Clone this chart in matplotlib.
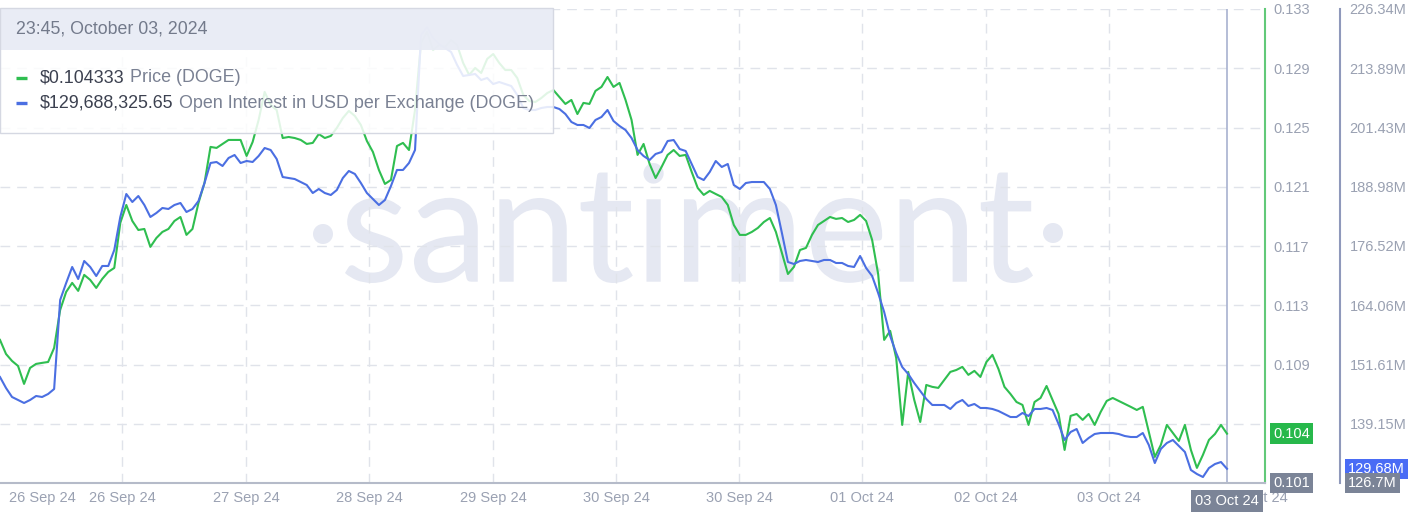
import numpy as np
import matplotlib
matplotlib.use("Agg")
import matplotlib.pyplot as plt
from matplotlib.font_manager import FontProperties
from matplotlib.patches import Circle, PathPatch, Rectangle
from matplotlib.textpath import TextPath
from matplotlib.transforms import Affine2D

plt.rcParams['font.family'] = ['Liberation Sans', 'DejaVu Sans']

# DOGE price in USD, evenly spaced samples up to 03 Oct 2024 23:45
price = [
    0.11066, 0.10971, 0.10924, 0.10890, 0.10769, 0.10877, 0.10904, 0.10911, 0.10917, 0.11012,
    0.11268, 0.11390, 0.11451, 0.11397, 0.11505, 0.11471, 0.11417, 0.11478, 0.11525, 0.11552,
    0.11856, 0.11977, 0.11869, 0.11808, 0.11815, 0.11694, 0.11754, 0.11795, 0.11815, 0.11869,
    0.11896, 0.11775, 0.11815, 0.11991, 0.12126, 0.12369, 0.12362, 0.12389, 0.12416, 0.12416,
    0.12416, 0.12308, 0.12402, 0.12551, 0.12740, 0.12652, 0.12618, 0.12429, 0.12436, 0.12429,
    0.12416, 0.12389, 0.12396, 0.12456, 0.12429, 0.12443, 0.12497, 0.12564, 0.12612, 0.12578,
    0.12517, 0.12409, 0.12335, 0.12213, 0.12119, 0.12146, 0.12375, 0.12396, 0.12348, 0.12618,
    0.13071, 0.13145, 0.13023, 0.13057, 0.13044, 0.13091, 0.13057, 0.12936, 0.12855, 0.12902,
    0.12868, 0.12963, 0.12996, 0.12936, 0.12888, 0.12888, 0.12834, 0.12720, 0.12679, 0.12672,
    0.12699, 0.12733, 0.12753, 0.12706, 0.12659, 0.12686, 0.12591, 0.12666, 0.12659, 0.12747,
    0.12774, 0.12841, 0.12774, 0.12801, 0.12686, 0.12551, 0.12315, 0.12389, 0.12254, 0.12159,
    0.12234, 0.12315, 0.12348, 0.12308, 0.12315, 0.12200, 0.12092, 0.12045, 0.12072, 0.12051,
    0.12031, 0.11977, 0.11842, 0.11775, 0.11775, 0.11795, 0.11822, 0.11862, 0.11889, 0.11795,
    0.11653, 0.11511, 0.11559, 0.11673, 0.11687, 0.11775, 0.11842, 0.11869, 0.11896, 0.11883,
    0.11889, 0.11862, 0.11876, 0.11910, 0.11869, 0.11741, 0.11511, 0.11066, 0.11127, 0.10944,
    0.10492, 0.10850, 0.10661, 0.10512, 0.10762, 0.10749, 0.10742, 0.10796, 0.10850, 0.10863,
    0.10884, 0.10830, 0.10857, 0.10816, 0.10917, 0.10965, 0.10870, 0.10749, 0.10701, 0.10647,
    0.10627, 0.10492, 0.10647, 0.10674, 0.10755, 0.10661, 0.10566, 0.10323, 0.10553, 0.10566,
    0.10526, 0.10566, 0.10492, 0.10580, 0.10654, 0.10674, 0.10654, 0.10634, 0.10614, 0.10593,
    0.10614, 0.10445, 0.10276, 0.10357, 0.10492, 0.10438, 0.10384, 0.10492, 0.10323, 0.10202,
    0.10290, 0.10391, 0.10431, 0.10492, 0.10433,
]

# open interest in USD per exchange, millions, same samples
oi_musd = [
    148.98, 146.67, 144.78, 144.15, 143.52, 144.15, 144.99, 144.78, 145.41, 146.46,
    165.17, 168.74, 172.11, 169.58, 173.37, 172.11, 170.21, 172.32, 172.32, 175.68,
    182.62, 187.45, 185.77, 187.03, 185.14, 182.62, 183.46, 184.51, 184.30, 185.14,
    185.56, 183.67, 184.30, 185.98, 189.76, 193.97, 194.18, 193.34, 195.02, 195.65,
    193.97, 194.39, 194.18, 195.44, 197.12, 196.70, 194.81, 191.02, 190.81, 190.60,
    189.97, 189.34, 187.66, 188.50, 187.66, 187.24, 188.29, 190.81, 192.29, 191.66,
    189.76, 187.66, 186.40, 185.14, 186.19, 189.13, 192.50, 192.50, 193.97, 196.70,
    220.87, 222.56, 220.24, 218.98, 218.14, 217.30, 214.57, 212.26, 212.47, 212.68,
    211.41, 211.84, 210.57, 210.99, 210.57, 210.15, 208.26, 205.53, 205.11, 205.11,
    205.53, 205.74, 205.74, 205.32, 204.27, 202.59, 201.96, 201.96, 201.33, 203.01,
    203.64, 205.11, 202.80, 201.75, 200.90, 199.22, 196.70, 195.44, 194.60, 195.86,
    196.28, 198.59, 198.80, 196.91, 196.49, 193.76, 191.02, 190.39, 192.08, 194.39,
    193.13, 193.76, 189.34, 188.50, 189.76, 189.97, 189.97, 189.97, 188.50, 185.14,
    179.25, 173.16, 172.74, 173.37, 173.58, 173.37, 173.16, 173.58, 173.58, 172.95,
    172.95, 172.32, 172.11, 174.42, 171.90, 170.21, 166.64, 162.65, 157.60, 154.03,
    151.08, 149.61, 147.72, 146.04, 144.36, 143.10, 143.10, 143.10, 142.26, 143.52,
    144.15, 142.89, 143.31, 142.47, 142.47, 142.26, 141.84, 141.20, 140.57, 140.57,
    141.42, 140.78, 142.26, 142.26, 142.47, 142.05, 139.10, 135.74, 137.42, 138.05,
    135.11, 136.16, 137.00, 137.21, 137.21, 137.21, 137.00, 136.58, 136.37, 136.37,
    137.21, 134.69, 130.90, 133.85, 135.11, 135.74, 134.48, 133.22, 129.43, 128.59,
    127.96, 129.85, 130.69, 131.11, 129.69,
]

price_ticks = [0.101, 0.105, 0.109, 0.113, 0.117, 0.121, 0.125, 0.129, 0.133]
oi_ticks = [126.70, 139.15, 151.61, 164.06, 176.52, 188.98, 201.43, 213.89, 226.34]
date_labels = ['26 Sep 24', '26 Sep 24', '27 Sep 24', '28 Sep 24', '29 Sep 24', '30 Sep 24',
               '30 Sep 24', '01 Oct 24', '02 Oct 24', '03 Oct 24', '03 Oct 24']

header = '23:45, October 03, 2024'
price_value = '$0.104333'
price_name = ' Price (DOGE)'
oi_value = '$129,688,325.65'
oi_name = ' Open Interest in USD per Exchange (DOGE)'
price_tag = '0.104'
oi_tag = '129.68M'
price_min_tag = '0.101'
oi_min_tag = '126.7M'

# layout (pixels of the 1414x516 picture)
W, H = 1414, 516
label_px = [42, 122, 246, 369, 493, 616, 739, 862, 986, 1109, 1256]
grid_px = [122, 246, 369, 493, 616, 739, 862, 986, 1109]
last_px = 1227

GREEN = '#2fbe50'
BLUE = '#4b6fe2'
GRID = '#e0e3ea'
TICK = '#9aa1b2'
WM = '#e5e8f2'
DASH = (0, (7, 5))

n = len(price)
x = np.arange(n)


def px2x(px):
    return px * (n - 1) / last_px


fig = plt.figure(figsize=(W / 100, H / 100), dpi=100, facecolor='white')

# watermark layer underneath everything
under = fig.add_axes([0, 0, 1, 1], zorder=-1)
under.set_xlim(0, W)
under.set_ylim(H, 0)
under.axis('off')
tp = TextPath((0, 0), 'santiment', size=100, prop=FontProperties(family='Lato', weight='normal'))
ext = tp.get_extents()
tr = (Affine2D().translate(-ext.x0, -ext.y0)
      .scale((1033 - 345) / ext.width, -(283 - 163) / ext.height)
      .translate(345, 283) + under.transData)
under.add_patch(PathPatch(tp, transform=tr, fc=WM, ec='none'))
under.add_patch(Circle((323, 234), 10, fc=WM, ec='none'))
under.add_patch(Circle((1053, 233), 10, fc=WM, ec='none'))

ax = fig.add_axes([0, (H - 483) / H, 1265 / W, (483 - 9) / H])
ax.patch.set_visible(False)
ax2 = ax.twinx()

ax.plot(x, price, color=GREEN, lw=1.5, zorder=3)
ax2.plot(x, oi_musd, color=BLUE, lw=1.5, zorder=3)

ax.set_xlim(0, px2x(1265))
ax.set_ylim(price_ticks[0], price_ticks[-1])
ax2.set_ylim(oi_ticks[0], oi_ticks[-1])

ax.set_axisbelow(True)
ax.yaxis.tick_right()
ax.set_yticks(price_ticks, [''] * 2 + [f'{v:.3f}' for v in price_ticks[2:]])
ax.grid(axis='y', color=GRID, lw=1, ls=DASH)
ax.tick_params(axis='y', length=0, pad=6, labelsize=10.5, labelcolor=TICK)
ax.set_xticks([px2x(p) for p in label_px], date_labels)
ax.set_xticks([px2x(p) for p in grid_px], minor=True)
ax.tick_params(axis='x', which='major', length=0, pad=6, labelsize=10.5, labelcolor=TICK)
ax.tick_params(axis='x', which='minor', direction='in', length=8, width=1, color='#d8dce5')
for p in grid_px:
    ax.axvline(px2x(p), color=GRID, lw=1, ls=DASH, zorder=0.5)

ax2.set_yticks(oi_ticks, [''] + [f'{v:.2f}M' for v in oi_ticks[1:]])
ax2.tick_params(axis='y', length=0, pad=7, labelsize=10.5, labelcolor=TICK)

for s in ['top', 'left']:
    ax.spines[s].set_visible(False)
ax.spines['bottom'].set_color('#b5bbc9')
ax.spines['bottom'].set_linewidth(1.5)
ax.spines['right'].set_color('#62c979')
ax.spines['right'].set_linewidth(1.5)
for s in ['top', 'left', 'bottom']:
    ax2.spines[s].set_visible(False)
ax2.spines['right'].set_position(('axes', 1340 / 1265))
ax2.spines['right'].set_color('#8f99bb')
ax2.spines['right'].set_linewidth(1.5)

# crosshair at the last point
ax.axvline(n - 1, color='#a8b1d0', lw=1.2, zorder=2)


def tag(axis, text, value, dx, fc, z):
    axis.annotate(text, xy=(1, value), xycoords=('axes fraction', 'data'),
                  xytext=(dx, 0), textcoords='offset pixels', ha='left', va='center',
                  color='white', fontsize=10.5, annotation_clip=False, zorder=z,
                  bbox=dict(boxstyle='square,pad=0.22', fc=fc, ec='none'))


tag(ax, price_tag, price[-1], 8, '#27b84b', 5)
tag(ax, price_min_tag, price_ticks[0], 8, '#7b8497', 5)
tag(ax2, oi_tag, oi_musd[-1], 83, '#4a6cf5', 5)
tag(ax2, oi_min_tag, oi_ticks[0], 83, '#7b8497', 6)

ax.annotate(date_labels[-1], xy=(n - 1, 0), xycoords=('data', 'axes fraction'),
            xytext=(0, -18), textcoords='offset pixels', ha='center', va='center',
            color='white', fontsize=10.5, annotation_clip=False, zorder=5,
            bbox=dict(boxstyle='square,pad=0.25', fc='#7b8497', ec='none'))

# legend box on top
leg = fig.add_axes([0, 0, 1, 1], zorder=10)
leg.set_xlim(0, W)
leg.set_ylim(H, 0)
leg.axis('off')
leg.add_patch(Rectangle((0, 8), 553, 125, fc='white', alpha=0.86, ec='none'))
leg.add_patch(Rectangle((0, 8), 553, 42, fc='#e8ebf5', alpha=0.93, ec='none'))
leg.add_patch(Rectangle((0, 8), 553, 125, fill=False, ec='#d5d8e2', lw=1))
leg.text(16, 29, header, ha='left', va='center', fontsize=12.8, color='#737a8b')
for yy, col, val, name in [(78, GREEN, price_value, price_name), (103, BLUE, oi_value, oi_name)]:
    leg.plot([16, 27], [yy, yy], color=col, lw=2.4, solid_capstyle='butt')
    t = leg.text(40, yy, val, ha='left', va='center', fontsize=12.9, color='#3c4150')
    leg.annotate(name, xy=(1, 0.5), xycoords=t, ha='left', va='center',
                 fontsize=12.9, color='#7a8193')

fig.savefig('out.png', dpi=100, facecolor='white')
